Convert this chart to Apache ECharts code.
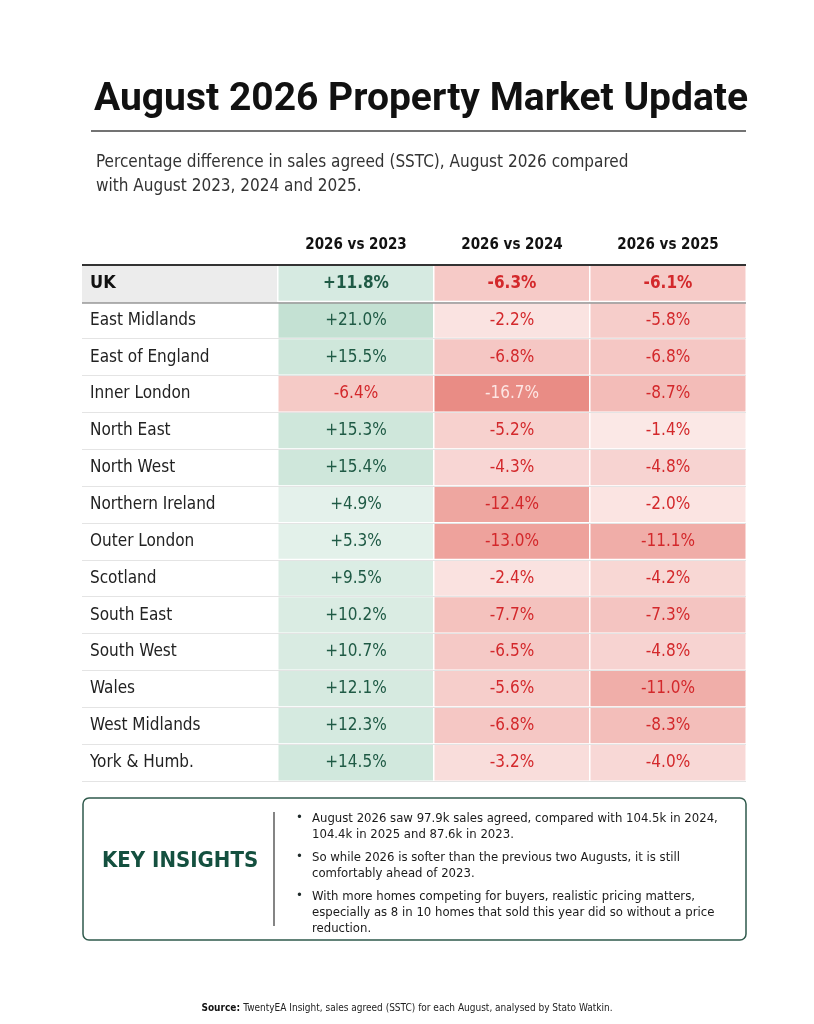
<!DOCTYPE html>
<html><head><meta charset="utf-8">
<script src="https://cdn.jsdelivr.net/npm/echarts@6/dist/echarts.min.js"></script>
<style>html,body{margin:0;padding:0;background:#fff}#c{width:814px;height:1024px}</style>
</head><body><div id="c"></div>
<script>
const regions=['UK','East Midlands','East of England','Inner London','North East','North West','Northern Ireland','Outer London','Scotland','South East','South West','Wales','West Midlands','York & Humb.'];
const columns=['2026 vs 2023','2026 vs 2024','2026 vs 2025'];
const vs2023=[11.8,21.0,15.5,-6.4,15.3,15.4,4.9,5.3,9.5,10.2,10.7,12.1,12.3,14.5];
const vs2024=[-6.3,-2.2,-6.8,-16.7,-5.2,-4.3,-12.4,-13.0,-2.4,-7.7,-6.5,-5.6,-6.8,-3.2];
const vs2025=[-6.1,-5.8,-6.8,-8.7,-1.4,-4.8,-2.0,-11.1,-4.2,-7.3,-4.8,-11.0,-8.3,-4.0];
const insights=['August 2026 saw 97.9k sales agreed, compared with 104.5k in 2024,\n104.4k in 2025 and 87.6k in 2023.','So while 2026 is softer than the previous two Augusts, it is still\ncomfortably ahead of 2023.','With more homes competing for buyers, realistic pricing matters,\nespecially as 8 in 10 homes that sold this year did so without a price\nreduction.'];
const NARROW="'DejaVu Sans Condensed','Liberation Sans Narrow',sans-serif";
function mix(a,b,t){const p=x=>[1,3,5].map(i=>parseInt(x.substr(i,2),16));const A=p(a),B=p(b);return 'rgb('+A.map((v,i)=>Math.round(v+(B[i]-v)*t)).join(',')+')';}
function cellColor(v){if(v>=0)return mix('#eef6f2','#c4e1d3',Math.min(v/21,1));return mix('#fdf0ef','#e98a83',Math.min(-v/17,1));}
const data=[];
[vs2023,vs2024,vs2025].forEach((arr,c)=>arr.forEach((v,r)=>data.push({value:[c,r,v],itemStyle:{color:cellColor(v)},
 label:{color:v<-15?'#fde6e4':(v>=0?'#1f5a45':'#d3282b'),fontWeight:r===0?'bold':'normal'}})));
const chart=echarts.init(document.getElementById('c'));
const insightTexts=[];let yy=811;
insights.forEach(t=>{const n=t.split('\n').length;insightTexts.push({type:'text',left:296,top:yy,style:{text:'•',font:'13px '+NARROW,fill:'#1f2a2a'}});insightTexts.push({type:'text',left:312,top:yy,style:{text:t,font:'13px '+NARROW,fill:'#1a1a1a',lineHeight:16}});yy+=n*16+7;});
chart.setOption({
 backgroundColor:'#fff',animation:false,
 title:[{text:'August 2026 Property Market Update',left:89,top:76,textStyle:{fontFamily:'Roboto, Inter, sans-serif',fontWeight:'bold',fontSize:39,color:'#111'}},
  {text:'Percentage difference in sales agreed (SSTC), August 2026 compared\nwith August 2023, 2024 and 2025.',left:91,top:146,textStyle:{fontFamily:NARROW,fontWeight:'normal',fontSize:17,lineHeight:24,color:'#333'}}],
 grid:[{left:82,right:68,top:265,bottom:243},{left:278,right:68,top:265,bottom:243}],
 xAxis:[{gridIndex:0,type:'category',data:['a'],show:false},
  {gridIndex:1,type:'category',data:columns,position:'top',axisLine:{show:false},axisTick:{show:false},axisLabel:{margin:12,fontFamily:NARROW,fontWeight:'bold',fontSize:15,color:'#111'}}],
 yAxis:[{gridIndex:0,type:'category',data:regions,inverse:true,axisLine:{show:false},axisTick:{show:false},
   axisLabel:{inside:true,margin:8,fontFamily:NARROW,fontSize:17,color:'#222',formatter:(v)=>v==='UK'?'{b|UK}':v,rich:{b:{fontWeight:'bold',fontSize:18,fontFamily:NARROW,color:'#111'}}},
   splitLine:{show:true,lineStyle:{color:'#e4e4e4',width:1}},z:5},
  {gridIndex:1,type:'category',data:regions,inverse:true,show:false}],
 series:[{type:'heatmap',xAxisIndex:1,yAxisIndex:1,data:data,itemStyle:{borderColor:'#fff',borderWidth:1.5},
   label:{show:true,fontFamily:NARROW,fontSize:17,formatter:p=>(p.value[2]>0?'+':'')+p.value[2].toFixed(1)+'%'}}],
 graphic:[
  {type:'line',shape:{x1:91,y1:131,x2:746,y2:131},style:{stroke:'#444',lineWidth:1.5}},
  {type:'rect',shape:{x:82,y:266,width:196,height:36},style:{fill:'#ececec'},z:-1},
  {type:'line',shape:{x1:82,y1:265,x2:746,y2:265},style:{stroke:'#333',lineWidth:2},z:10},
  {type:'line',shape:{x1:82,y1:303,x2:746,y2:303},style:{stroke:'#999',lineWidth:1.5},z:10},
  {type:'rect',shape:{x:83,y:798,width:663,height:142,r:6},style:{fill:'#fff',stroke:'#2f5a4c',lineWidth:1.5}},
  {type:'text',left:102,top:850,style:{text:'KEY INSIGHTS',font:'bold 22px '+NARROW,fill:'#14503f'}},
  {type:'line',shape:{x1:274,y1:812,x2:274,y2:926},style:{stroke:'#333',lineWidth:1.2}},
  ...insightTexts,
  {type:'text',left:'center',top:1002,style:{rich:{b:{font:'bold 10px '+NARROW,fill:'#111'},n:{font:'10px '+NARROW,fill:'#222'}},text:'{b|Source:} {n|TwentyEA Insight, sales agreed (SSTC) for each August, analysed by Stato Watkin.}'}}
 ]
});
</script></body></html>
